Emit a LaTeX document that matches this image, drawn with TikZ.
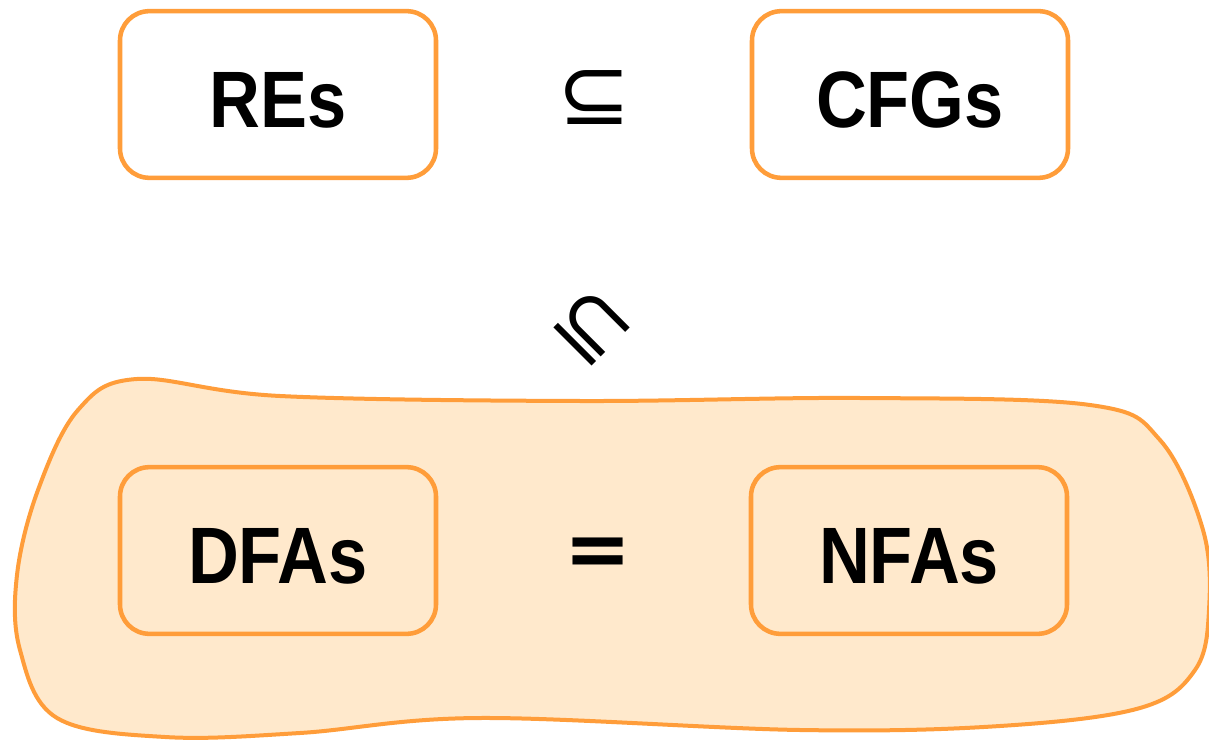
\documentclass[tikz,border=0pt]{standalone}
\usepackage{fontspec}
\setmainfont{Liberation Sans}
\newfontfamily\symfont{DejaVu Sans}
\definecolor{borange}{HTML}{FF9D3A}
\definecolor{bfill}{HTML}{FFE9CC}
\newcommand{\narrowtxt}[1]{\scalebox{0.88}[1]{#1}}
\begin{document}
\begin{tikzpicture}[x=0.75pt,y=-0.75pt,
  setbox/.style={draw=borange, line width=3.4pt, rounded corners=22pt,
    minimum width=237pt, minimum height=125pt, inner sep=0pt,
    font=\fontsize{60pt}{72pt}\selectfont\bfseries, text height=49pt, text depth=0pt},
  rel/.style={inner sep=0pt, font=\fontsize{66pt}{72pt}\selectfont\symfont},
  releq/.style={inner sep=0pt, font=\fontsize{60pt}{72pt}\selectfont\symfont\bfseries}]
\useasboundingbox (0,0) rectangle (1209,741);
\fill[white] (0,0) rectangle (1209,741);
\draw[draw=borange, fill=bfill, line width=3pt]
  plot[smooth cycle, tension=0.6] coordinates {
  (137,379) (280,396) (580,401) (860,398) (1090,405) (1160,440)
  (1203,530) (1209,610) (1195,670) (1140,708) (1000,726) (800,730)
  (480,718) (300,733) (165,737) (57,718) (20,650) (17,575) (38,490) (78,410)};
\node[setbox] (re) at (278,94.5) {\narrowtxt{REs}};
\node[setbox] (cfg) at (910,94.5) {\narrowtxt{CFGs}};
\node[setbox] (dfa) at (278,550.5) {\narrowtxt{DFAs}};
\node[setbox] (nfa) at (909,550.5) {\narrowtxt{NFAs}};
\node[rel] (sub1) at (594,98) {⊆};
\node[rel, rotate=-45] (sub2) at (592,327) {⊆};
\node[releq] (eq) at (598,557) {=};
\end{tikzpicture}
\end{document}
